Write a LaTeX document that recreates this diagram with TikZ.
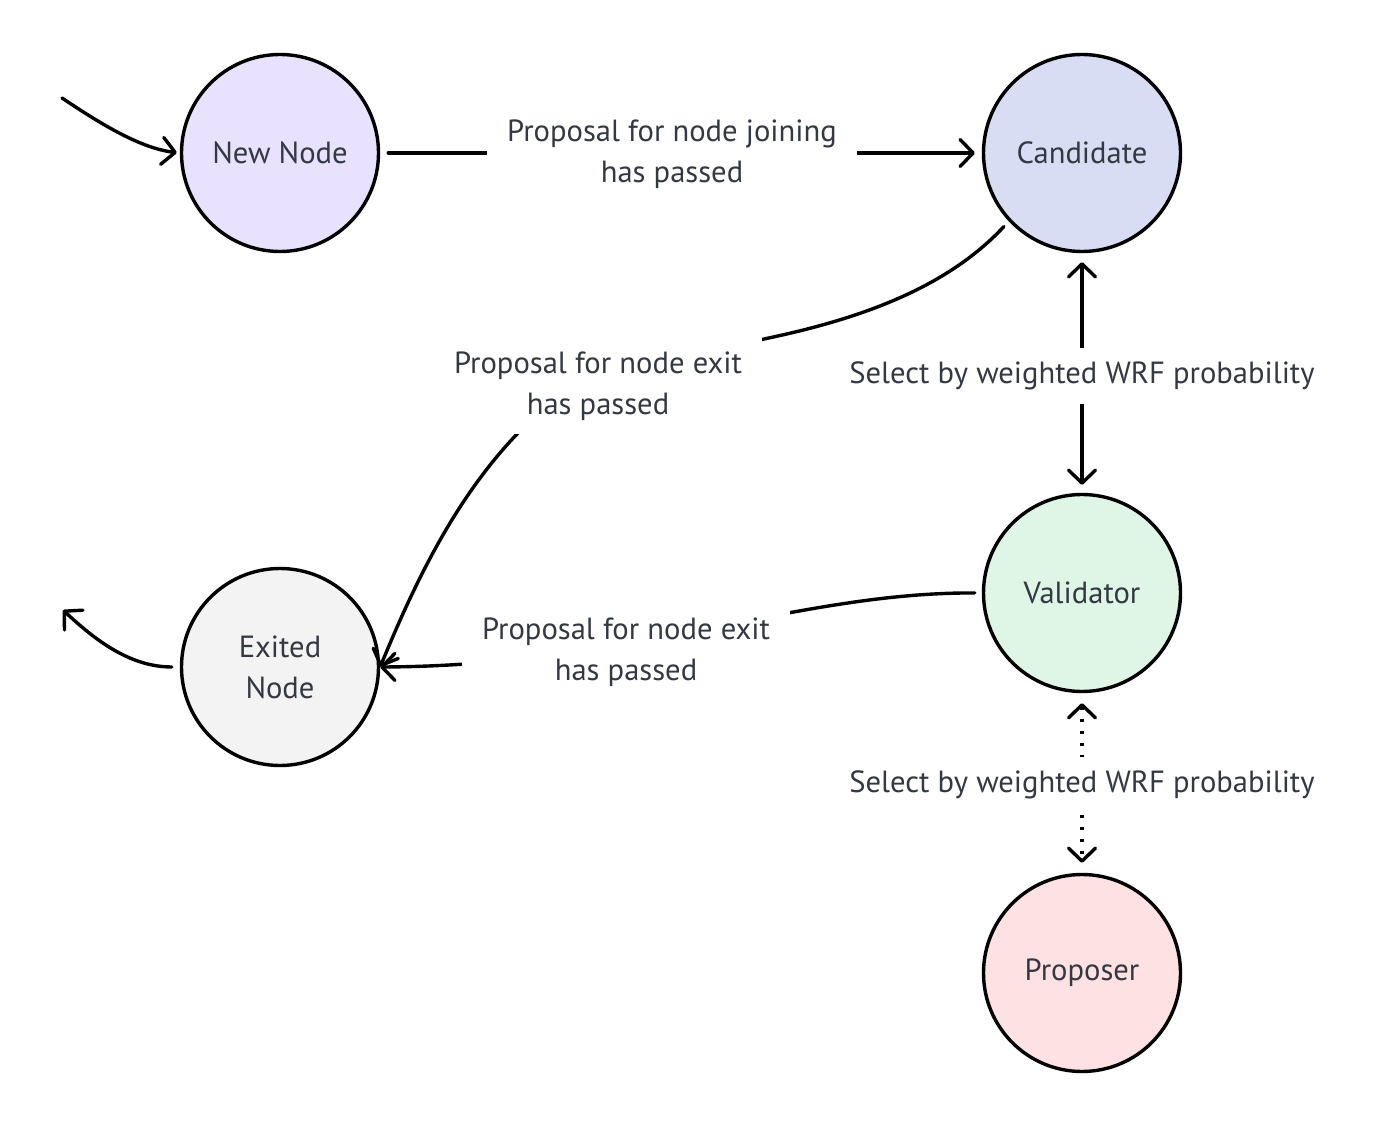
\documentclass[tikz,border=0pt]{standalone}
\usepackage{fontspec}
\setmainfont{PT Sans}
\usetikzlibrary{arrows.meta}
\definecolor{txt}{HTML}{333842}
\definecolor{cNew}{HTML}{E9E2FE}
\definecolor{cCand}{HTML}{D9DDF4}
\definecolor{cVal}{HTML}{DFF5E5}
\definecolor{cExit}{HTML}{F3F3F3}
\definecolor{cProp}{HTML}{FDE1E3}
\begin{document}
\begin{tikzpicture}[x=0.5pt,y=-0.5pt,
  state/.style={circle,draw=black,line width=1.7pt,minimum size=98.5pt,inner sep=0pt,
    text=txt,font=\fontsize{15.3}{20.5}\selectfont,align=center},
  lbl/.style={fill=white,text=txt,font=\fontsize{15.3}{20.5}\selectfont,align=center,
    inner xsep=10pt,inner ysep=7pt},
  edge/.style={line width=1.7pt,line cap=round,-{Straight Barb[length=6.5pt,width=13.5pt,round]}},
  dedge/.style={line width=1.7pt,{Straight Barb[length=6.5pt,width=13.5pt,round]}-{Straight Barb[length=6.5pt,width=13.5pt,round]}},
  dotline/.style={dash pattern=on 1.7pt off 4.3pt}
]
\useasboundingbox (0,0) rectangle (1376,1122);

\node[state,fill=cNew]  (nn)   at (280,153) {New Node};
\node[state,fill=cCand] (cand) at (1082,153) {Candidate};
\node[state,fill=cVal]  (val)  at (1082,593) {Validator};
\node[state,fill=cExit] (exit) at (280,667) {Exited\\Node};
\node[state,fill=cProp] (prop) at (1082,973) {Proposer};

\coordinate (in0) at (62,98);
\coordinate (out0) at (63,610);

% entry and leave
\draw[edge,shorten >=1.5pt] (in0) .. controls (95,120) and (138,148) .. (nn.west);
\draw[edge,shorten <=4pt] (exit.west) .. controls (130,667) and (95,640) .. (out0);

% new -> candidate
\draw[edge,shorten <=4pt,shorten >=3.5pt] (nn.east) -- (cand.west);
\node[lbl] (l1) at (672,154) {Proposal for node joining\\has passed};

% candidate -> exited
\draw[edge,shorten <=3.5pt] (cand.223) .. controls (945,290) and (855,320) .. (764,339)
  .. controls (687,359) and (575,374) .. (519,432)
  .. controls (456,497) and (415,582) .. (exit.east);
\node[lbl] (l2) at (598,386) {Proposal for node exit\\has passed};

% validator -> exited
\draw[edge,shorten <=3.5pt] (val.west) .. controls (795,592) and (630,666) .. (exit.east);
\node[lbl] (l3) at (626,652) {Proposal for node exit\\has passed};

% candidate <-> validator
\draw[dedge,shorten <=4.5pt,shorten >=4pt] (cand.south) -- (val.north);
\node[lbl] (l4) at (1082,376) {Select by weighted WRF probability};

% validator <-> proposer
\draw[dedge,dotline,shorten <=5pt,shorten >=5pt] (val.south) -- (prop.north);
\node[lbl] (l5) at (1082,785) {Select by weighted WRF probability};
\end{tikzpicture}
\end{document}
